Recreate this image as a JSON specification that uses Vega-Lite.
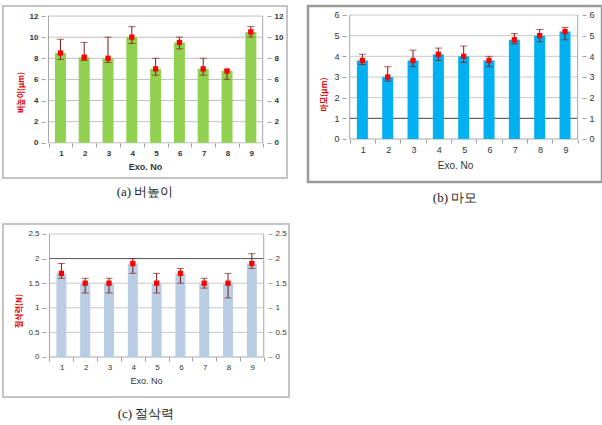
{
"$schema": "https://vega.github.io/schema/vega-lite/v6.json",
"padding": {"left": 2, "top": 4, "right": 0, "bottom": 0},
"autosize": {"type": "pad"},
"background": "white",
"config": {"font": "Liberation Sans", "axis": {"labelFont": "Liberation Sans", "labelColor": "#333333"}},
"datasets": {
 "a": [
  {"exo": 1, "v": 8.5, "lo": 7.9, "hi": 9.8},
  {"exo": 2, "v": 8.1, "lo": 7.8, "hi": 9.5},
  {"exo": 3, "v": 8.0, "lo": 7.6, "hi": 10.0},
  {"exo": 4, "v": 10.0, "lo": 9.4, "hi": 11.0},
  {"exo": 5, "v": 7.0, "lo": 6.4, "hi": 8.0},
  {"exo": 6, "v": 9.5, "lo": 8.9, "hi": 10.0},
  {"exo": 7, "v": 7.0, "lo": 6.4, "hi": 8.0},
  {"exo": 8, "v": 6.8, "lo": 6.0, "hi": 6.9},
  {"exo": 9, "v": 10.5, "lo": 10.0, "hi": 11.0}
 ],
 "b": [
  {"exo": 1, "v": 3.8, "lo": 3.6, "hi": 4.1},
  {"exo": 2, "v": 3.0, "lo": 2.8, "hi": 3.5},
  {"exo": 3, "v": 3.8, "lo": 3.5, "hi": 4.3},
  {"exo": 4, "v": 4.1, "lo": 3.8, "hi": 4.4},
  {"exo": 5, "v": 4.0, "lo": 3.7, "hi": 4.5},
  {"exo": 6, "v": 3.8, "lo": 3.5, "hi": 4.0},
  {"exo": 7, "v": 4.8, "lo": 4.6, "hi": 5.1},
  {"exo": 8, "v": 5.0, "lo": 4.7, "hi": 5.3},
  {"exo": 9, "v": 5.2, "lo": 4.8, "hi": 5.4}
 ],
 "c": [
  {"exo": 1, "v": 1.7, "lo": 1.6, "hi": 1.9},
  {"exo": 2, "v": 1.5, "lo": 1.3, "hi": 1.6},
  {"exo": 3, "v": 1.5, "lo": 1.3, "hi": 1.6},
  {"exo": 4, "v": 1.9, "lo": 1.7, "hi": 2.0},
  {"exo": 5, "v": 1.5, "lo": 1.3, "hi": 1.7},
  {"exo": 6, "v": 1.7, "lo": 1.5, "hi": 1.8},
  {"exo": 7, "v": 1.5, "lo": 1.4, "hi": 1.6},
  {"exo": 8, "v": 1.5, "lo": 1.2, "hi": 1.7},
  {"exo": 9, "v": 1.9, "lo": 1.8, "hi": 2.1}
 ]
},
"spacing": 16,
"vconcat": [
 {
  "spacing": 18,
  "hconcat": [
   {
    "width": 284, "height": 172,
    "view": {"stroke": "#c4c4c4", "strokeWidth": 2},
    "title": {"text": "(a) 버높이", "orient": "bottom", "font": "Liberation Serif", "fontSize": 13, "fontWeight": "normal", "color": "#222222", "offset": 8},
    "data": {"name": "a"},
    "resolve": {"axis": {"x": "independent", "y": "independent"}},
    "layer": [
     {"data": {"values": [{"g": 0}, {"g": 2}, {"g": 4}, {"g": 6}, {"g": 8}, {"g": 10}, {"g": 12}]},
      "mark": {"type": "rule", "color": "#c0c0c0"},
      "encoding": {
       "x": {"datum": 0.5, "type": "quantitative", "scale": {"domain": [-1.203, 10.311], "nice": false, "zero": false}, "axis": null},
       "x2": {"datum": 9.5},
       "y": {"field": "g", "type": "quantitative", "scale": {"domain": [-3.333, 12.952], "nice": false, "zero": false}, "axis": null}}},
     {"mark": {"type": "bar", "width": 11, "color": "#92D050"},
      "encoding": {
       "x": {"field": "exo", "type": "quantitative", "scale": {"domain": [-1.203, 10.311], "nice": false, "zero": false},
        "axis": {"orient": "bottom", "offset": -35, "values": [0.5, 1.5, 2.5, 3.5, 4.5, 5.5, 6.5, 7.5, 8.5, 9.5], "labelExpr": "datum.value < 9 ? datum.value + 0.5 : ''", "labelOffset": 12.33, "labelFlush": false, "labelOverlap": false, "domain": false, "grid": false, "tickSize": 4, "tickColor": "#a0a0a0", "labelFontSize": 8, "labelFontWeight": "bold", "labelPadding": 2, "title": "Exo. No", "titleFontSize": 9, "titleFontWeight": "bold", "titleColor": "#333333", "titlePadding": 5}},
       "y": {"field": "v", "type": "quantitative", "scale": {"domain": [-3.333, 12.952], "nice": false, "zero": false},
        "axis": {"orient": "left", "offset": -42, "values": [0, 2, 4, 6, 8, 10, 12], "domain": false, "grid": false, "tickSize": 4, "tickColor": "#a0a0a0", "labelFontSize": 8, "labelFontWeight": "bold", "labelPadding": 3, "title": "버높이(μm)", "titleFont": "Noto Sans CJK KR", "titleFontSize": 8, "titleFontWeight": "bold", "titleColor": "#e00000", "titlePadding": 4}},
       "y2": {"datum": 0}}},
     {"data": {"values": [{}]},
      "mark": {"type": "rule", "color": "#a6a6a6"},
      "encoding": {"x": {"datum": 0.5, "type": "quantitative", "axis": null}, "y": {"datum": 0, "type": "quantitative", "axis": null}, "y2": {"datum": 12}}},
     {"data": {"values": [{}]},
      "mark": {"type": "rule", "color": "#a6a6a6"},
      "encoding": {"x": {"datum": 9.5, "type": "quantitative", "axis": null}, "y": {"datum": 0, "type": "quantitative",
        "axis": {"orient": "right", "offset": -20, "values": [0, 2, 4, 6, 8, 10, 12], "domain": false, "grid": false, "tickSize": 4, "tickColor": "#a0a0a0", "labelFontSize": 8, "labelFontWeight": "bold", "labelPadding": 3, "title": null}}, "y2": {"datum": 12}}},
     {"mark": {"type": "rule", "color": "#6b1a1a"},
      "encoding": {"x": {"field": "exo", "type": "quantitative", "axis": null}, "y": {"field": "lo", "type": "quantitative", "axis": null}, "y2": {"field": "hi"}}},
     {"mark": {"type": "tick", "orient": "horizontal", "size": 7, "thickness": 1, "color": "#8b1a1a"},
      "encoding": {"x": {"field": "exo", "type": "quantitative", "axis": null}, "y": {"field": "lo", "type": "quantitative", "axis": null}}},
     {"mark": {"type": "tick", "orient": "horizontal", "size": 7, "thickness": 1, "color": "#8b1a1a"},
      "encoding": {"x": {"field": "exo", "type": "quantitative", "axis": null}, "y": {"field": "hi", "type": "quantitative", "axis": null}}},
     {"mark": {"type": "square", "filled": true, "size": 28, "color": "#ff0000", "opacity": 1},
      "encoding": {"x": {"field": "exo", "type": "quantitative", "axis": null}, "y": {"field": "v", "type": "quantitative", "axis": null}}}
    ]
   },
   {
    "width": 294, "height": 176,
    "view": {"stroke": "#9a9a9a", "strokeWidth": 2.5},
    "title": {"text": "(b) 마모", "orient": "bottom", "font": "Liberation Serif", "fontSize": 13, "fontWeight": "normal", "color": "#222222", "offset": 10},
    "data": {"name": "b"},
    "resolve": {"axis": {"x": "independent", "y": "independent"}},
    "layer": [
     {"data": {"values": [{"g": 2}, {"g": 3}, {"g": 4}, {"g": 5}, {"g": 6}]},
      "mark": {"type": "rule", "color": "#c8c8c8"},
      "encoding": {
       "x": {"datum": 0.5, "type": "quantitative", "scale": {"domain": [-0.949, 10.263], "nice": false, "zero": false}, "axis": null},
       "x2": {"datum": 9.5},
       "y": {"field": "g", "type": "quantitative", "scale": {"domain": [-2.081, 6.435], "nice": false, "zero": false}, "axis": null}}},
     {"data": {"values": [{}]},
      "mark": {"type": "rule", "color": "#a6a6a6"},
      "encoding": {"x": {"datum": 0.5, "type": "quantitative", "axis": null}, "x2": {"datum": 9.5}, "y": {"datum": 0, "type": "quantitative", "axis": null}}},
     {"data": {"values": [{}]},
      "mark": {"type": "rule", "color": "#404040"},
      "encoding": {"x": {"datum": 0.5, "type": "quantitative", "axis": null}, "x2": {"datum": 9.5}, "y": {"datum": 1, "type": "quantitative", "axis": null}}},
     {"mark": {"type": "bar", "width": 11, "color": "#00B0F0"},
      "encoding": {
       "x": {"field": "exo", "type": "quantitative", "scale": {"domain": [-0.949, 10.263], "nice": false, "zero": false},
        "axis": {"orient": "bottom", "offset": -43, "values": [0.5, 1.5, 2.5, 3.5, 4.5, 5.5, 6.5, 7.5, 8.5, 9.5], "labelExpr": "datum.value < 9 ? datum.value + 0.5 : ''", "labelOffset": 13.11, "labelFlush": false, "labelOverlap": false, "domain": false, "grid": false, "tickSize": 4, "tickColor": "#a0a0a0", "labelFontSize": 9, "labelPadding": 2, "title": "Exo. No", "titleFontSize": 10, "titleFontWeight": "normal", "titleColor": "#333333", "titlePadding": 6}},
       "y": {"field": "v", "type": "quantitative", "scale": {"domain": [-2.081, 6.435], "nice": false, "zero": false},
        "axis": {"orient": "left", "offset": -38, "values": [0, 1, 2, 3, 4, 5, 6], "domain": false, "grid": false, "tickSize": 4, "tickColor": "#a0a0a0", "labelFontSize": 9, "labelPadding": 3, "title": "마모(μm)", "titleFont": "Noto Sans CJK KR", "titleFontSize": 8, "titleFontWeight": "bold", "titleColor": "#e00000", "titlePadding": 5}},
       "y2": {"datum": 0}}},
     {"data": {"values": [{}]},
      "mark": {"type": "rule", "color": "#a6a6a6"},
      "encoding": {"x": {"datum": 0.5, "type": "quantitative", "axis": null}, "y": {"datum": 0, "type": "quantitative", "axis": null}, "y2": {"datum": 6}}},
     {"data": {"values": [{}]},
      "mark": {"type": "rule", "color": "#a6a6a6"},
      "encoding": {"x": {"datum": 9.5, "type": "quantitative", "axis": null}, "y": {"datum": 0, "type": "quantitative",
        "axis": {"orient": "right", "offset": -20, "values": [0, 1, 2, 3, 4, 5, 6], "domain": false, "grid": false, "tickSize": 4, "tickColor": "#a0a0a0", "labelFontSize": 9, "labelPadding": 3, "title": null}}, "y2": {"datum": 6}}},
     {"mark": {"type": "rule", "color": "#6b1a1a"},
      "encoding": {"x": {"field": "exo", "type": "quantitative", "axis": null}, "y": {"field": "lo", "type": "quantitative", "axis": null}, "y2": {"field": "hi"}}},
     {"mark": {"type": "tick", "orient": "horizontal", "size": 7, "thickness": 1, "color": "#8b1a1a"},
      "encoding": {"x": {"field": "exo", "type": "quantitative", "axis": null}, "y": {"field": "lo", "type": "quantitative", "axis": null}}},
     {"mark": {"type": "tick", "orient": "horizontal", "size": 7, "thickness": 1, "color": "#8b1a1a"},
      "encoding": {"x": {"field": "exo", "type": "quantitative", "axis": null}, "y": {"field": "hi", "type": "quantitative", "axis": null}}},
     {"mark": {"type": "square", "filled": true, "size": 28, "color": "#ff0000", "opacity": 1},
      "encoding": {"x": {"field": "exo", "type": "quantitative", "axis": null}, "y": {"field": "v", "type": "quantitative", "axis": null}}}
    ]
   }
  ]
 },
 {
  "width": 286, "height": 173,
  "view": {"stroke": "#c4c4c4", "strokeWidth": 2},
  "title": {"text": "(c) 절삭력", "orient": "bottom", "font": "Liberation Serif", "fontSize": 13, "fontWeight": "normal", "color": "#222222", "offset": 11},
  "data": {"name": "c"},
  "resolve": {"axis": {"x": "independent", "y": "independent"}},
  "layer": [
   {"data": {"values": [{"g": 0.5}, {"g": 1}, {"g": 1.5}, {"g": 2.5}]},
    "mark": {"type": "rule", "color": "#c8c8c8"},
    "encoding": {
     "x": {"datum": 0.5, "type": "quantitative", "scale": {"domain": [-1.243, 10.351], "nice": false, "zero": false}, "axis": null},
     "x2": {"datum": 9.5},
     "y": {"field": "g", "type": "quantitative", "scale": {"domain": [-0.813, 2.703], "nice": false, "zero": false}, "axis": null}}},
   {"data": {"values": [{}]},
    "mark": {"type": "rule", "color": "#a6a6a6"},
    "encoding": {"x": {"datum": 0.5, "type": "quantitative", "axis": null}, "x2": {"datum": 9.5}, "y": {"datum": 0, "type": "quantitative", "axis": null}}},
   {"data": {"values": [{}]},
    "mark": {"type": "rule", "color": "#555555"},
    "encoding": {"x": {"datum": 0.5, "type": "quantitative", "axis": null}, "x2": {"datum": 9.5}, "y": {"datum": 2, "type": "quantitative", "axis": null}}},
   {"mark": {"type": "bar", "width": 10, "color": "#B9CDE5"},
    "encoding": {
     "x": {"field": "exo", "type": "quantitative", "scale": {"domain": [-1.243, 10.351], "nice": false, "zero": false},
      "axis": {"orient": "bottom", "offset": -40, "values": [0.5, 1.5, 2.5, 3.5, 4.5, 5.5, 6.5, 7.5, 8.5, 9.5], "labelExpr": "datum.value < 9 ? datum.value + 0.5 : ''", "labelOffset": 12.33, "labelFlush": false, "labelOverlap": false, "domain": false, "grid": false, "tickSize": 4, "tickColor": "#a0a0a0", "labelFontSize": 8, "labelPadding": 2, "title": "Exo. No", "titleFontSize": 9, "titleFontWeight": "normal", "titleColor": "#333333", "titlePadding": 5}},
     "y": {"field": "v", "type": "quantitative", "scale": {"domain": [-0.813, 2.703], "nice": false, "zero": false},
      "axis": {"orient": "left", "offset": -43, "values": [0, 0.5, 1, 1.5, 2, 2.5], "format": "", "domain": false, "grid": false, "tickSize": 4, "tickColor": "#a0a0a0", "labelFontSize": 8, "labelPadding": 3, "title": "절삭력(N)", "titleFont": "Noto Sans CJK KR", "titleFontSize": 8, "titleFontWeight": "bold", "titleColor": "#e00000", "titlePadding": 4}},
     "y2": {"datum": 0}}},
   {"data": {"values": [{}]},
    "mark": {"type": "rule", "color": "#a6a6a6"},
    "encoding": {"x": {"datum": 0.5, "type": "quantitative", "axis": null}, "y": {"datum": 0, "type": "quantitative", "axis": null}, "y2": {"datum": 2.5}}},
   {"data": {"values": [{}]},
    "mark": {"type": "rule", "color": "#a6a6a6"},
    "encoding": {"x": {"datum": 9.5, "type": "quantitative", "axis": null}, "y": {"datum": 0, "type": "quantitative",
      "axis": {"orient": "right", "offset": -21, "values": [0, 0.5, 1, 1.5, 2, 2.5], "format": "", "domain": false, "grid": false, "tickSize": 4, "tickColor": "#a0a0a0", "labelFontSize": 8, "labelPadding": 3, "title": null}}, "y2": {"datum": 2.5}}},
   {"mark": {"type": "rule", "color": "#6b1a1a"},
    "encoding": {"x": {"field": "exo", "type": "quantitative", "axis": null}, "y": {"field": "lo", "type": "quantitative", "axis": null}, "y2": {"field": "hi"}}},
   {"mark": {"type": "tick", "orient": "horizontal", "size": 7, "thickness": 1, "color": "#8b1a1a"},
    "encoding": {"x": {"field": "exo", "type": "quantitative", "axis": null}, "y": {"field": "lo", "type": "quantitative", "axis": null}}},
   {"mark": {"type": "tick", "orient": "horizontal", "size": 7, "thickness": 1, "color": "#8b1a1a"},
    "encoding": {"x": {"field": "exo", "type": "quantitative", "axis": null}, "y": {"field": "hi", "type": "quantitative", "axis": null}}},
   {"mark": {"type": "square", "filled": true, "size": 28, "color": "#ff0000", "opacity": 1},
    "encoding": {"x": {"field": "exo", "type": "quantitative", "axis": null}, "y": {"field": "v", "type": "quantitative", "axis": null}}}
  ]
 }
]
}
